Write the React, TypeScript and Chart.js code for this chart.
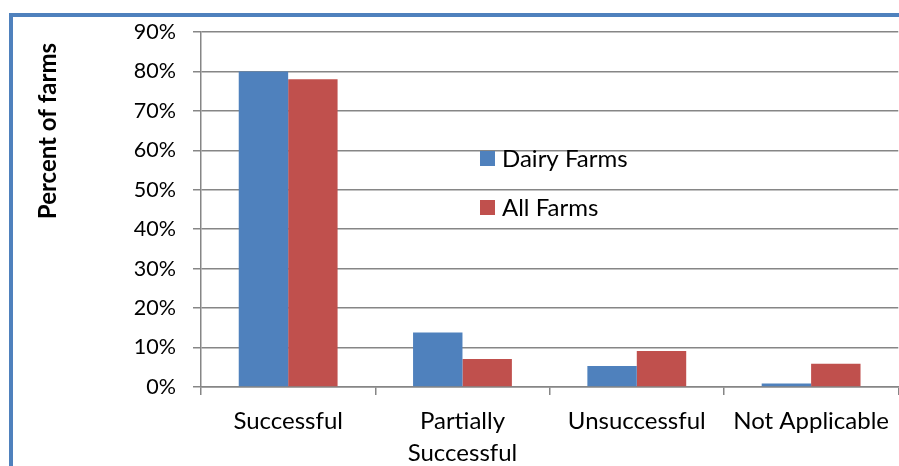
import React, { useEffect, useRef } from "react";
import { Chart, registerables } from "chart.js";

Chart.register(...registerables);

const categories: (string | string[])[] = ["Successful", ["Partially", "Successful"], "Unsuccessful", "Not Applicable"];
const dairyFarms = [80, 13.8, 5.3, 0.9];
const allFarms = [78, 7.1, 9.1, 5.9];
const seriesNames = ["Dairy Farms", "All Farms"];
const yTitle = "Percent of farms";

const BLUE = "#4F81BD";
const RED = "#C0504D";
const FONT = "Lato, 'Open Sans', sans-serif";

const overlayPlugin = {
  id: "overlay",
  afterDraw(chart: any) {
    const ctx = chart.ctx;
    const area = chart.chartArea;
    ctx.save();
    // y title
    ctx.translate(48, 131);
    ctx.rotate(-Math.PI / 2);
    ctx.font = `bold 24px ${FONT}`;
    ctx.fillStyle = "#000";
    ctx.textAlign = "center";
    ctx.textBaseline = "middle";
    ctx.fillText(yTitle, 0, 0);
    ctx.restore();
    // legend
    ctx.save();
    const colors = [BLUE, RED];
    const lx = area.left + 279;
    const ly = area.top + 119;
    ctx.font = `24px ${FONT}`;
    ctx.textBaseline = "middle";
    seriesNames.forEach((n, i) => {
      const y = ly + i * 49;
      ctx.fillStyle = colors[i];
      ctx.fillRect(lx, y, 15, 15);
      ctx.fillStyle = "#000";
      ctx.fillText(n, lx + 22, y + 8);
    });
    ctx.restore();
  },
};

export default function App() {
  const ref = useRef<HTMLCanvasElement>(null);
  useEffect(() => {
    if (!ref.current) return;
    const chart = new Chart(ref.current, {
      type: "bar",
      data: {
        labels: categories,
        datasets: [
          { label: seriesNames[0], data: dairyFarms, backgroundColor: BLUE, borderWidth: 0 },
          { label: seriesNames[1], data: allFarms, backgroundColor: RED, borderWidth: 0 },
        ],
      },
      options: {
        responsive: false,
        animation: false,
        devicePixelRatio: 1,
        layout: { padding: { top: 32, right: 0, left: 0, bottom: 0 } },
        plugins: { legend: { display: false }, tooltip: { enabled: false } },
        datasets: { bar: { categoryPercentage: 0.567, barPercentage: 1 } },
        scales: {
          x: {
            grid: { drawOnChartArea: false, color: "#868686", lineWidth: 1.5, tickLength: 8 },
            border: { color: "#868686", width: 1.5 },
            ticks: { color: "#000", font: { family: FONT, size: 24, lineHeight: 1.35 }, padding: 10, maxRotation: 0, autoSkip: false },
            afterFit(s: any) { s.height = 79; },
          },
          y: {
            min: 0,
            max: 90,
            grid: { color: "#868686", lineWidth: 1.5, tickLength: 8 },
            border: { color: "#868686", width: 1.5 },
            ticks: {
              stepSize: 10,
              color: "#000",
              font: { family: FONT, size: 21.5 },
              padding: 17,
              callback: (v: any) => `${v}%`,
            },
            afterFit(s: any) { s.width = 201; },
          },
        },
      },
      plugins: [overlayPlugin],
    });
    return () => chart.destroy();
  }, []);
  return (
    <div style={{ position: "fixed", left: 0, top: 0, width: 899, height: 466, background: "#fff", overflow: "hidden" }}>
      <div style={{ position: "absolute", left: 9, top: 13, width: 1000, height: 1000, borderTop: `4px solid ${BLUE}`, borderLeft: `4px solid ${BLUE}`, boxSizing: "border-box" }} />
      <canvas ref={ref} width={899} height={466} style={{ position: "absolute", left: 0, top: 0 }} />
    </div>
  );
}
